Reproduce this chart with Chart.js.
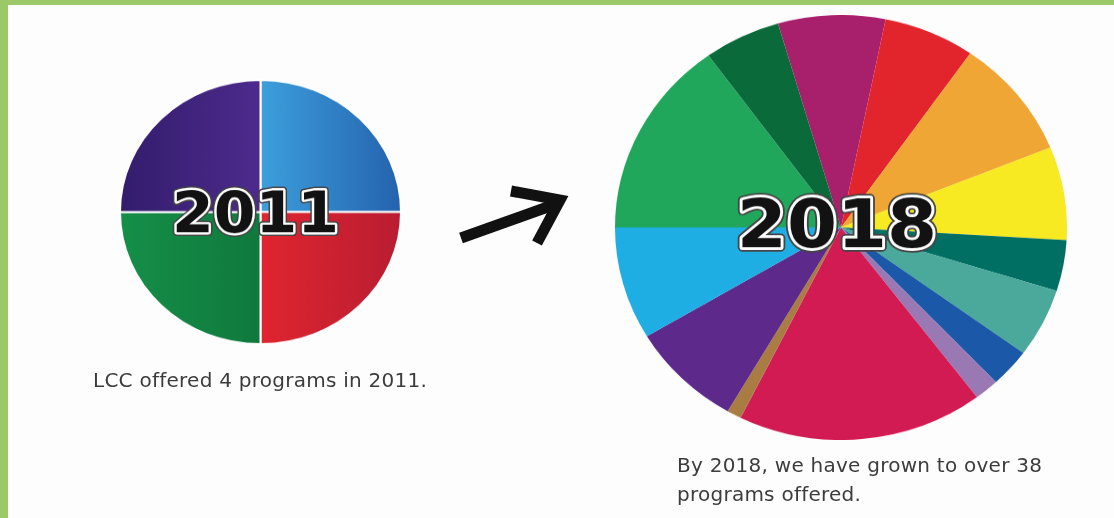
<!DOCTYPE html>
<html>
<head>
<meta charset="utf-8">
<script src="https://cdn.jsdelivr.net/npm/chart.js@4.4.1/dist/chart.umd.min.js"></script>
<style>
  html, body { margin: 0; padding: 0; background: #fff; }
  #page {
    position: relative; width: 1106px; height: 513px;
    border-left: 8px solid #9bc96a; border-top: 5px solid #9bc96a;
    background: #fdfdfd; overflow: hidden;
  }
  .squish { position: absolute; transform: scaleY(0.94); transform-origin: 0 0; }
  #box2011 { left: 111px; top: 74px; }
  #box2018 { left: 607px; top: 10px; }
  .caption {
    position: absolute; font-family: "DejaVu Sans", sans-serif; font-size: 20px;
    letter-spacing: 0.25px; color: #3c3c3c; line-height: 29px; white-space: nowrap;
  }
  #cap1 { left: 85px; top: 361px; }
  #cap2 { left: 669px; top: 446px; }
  svg { position: absolute; left: 0; top: 0; }
</style>
</head>
<body>
<div id="page">
  <div class="squish" id="box2011"><canvas id="pie2011" width="283" height="283"></canvas></div>
  <div class="squish" id="box2018"><canvas id="pie2018" width="452" height="452"></canvas></div>
  <svg width="1106" height="513">
    <g stroke="#111" stroke-width="11" fill="none" stroke-linecap="butt" stroke-linejoin="miter">
      <line x1="453" y1="233" x2="548" y2="199" />
      <polyline points="503,186 552,195 529,238" />
    </g>
  </svg>
  <div class="caption" id="cap1">LCC offered 4 programs in 2011.</div>
  <div class="caption" id="cap2">By 2018, we have grown to over 38<br>programs offered.</div>
</div>
<script>
// 2011: four programs, equal shares
const labels2011 = ["Program 1", "Program 2", "Program 3", "Program 4"];
const values2011 = [1, 1, 1, 1];
// each quarter is shaded a little from left to right
const colors2011Left = ["#3d9fdc", "#df2530", "#158f48", "#331c6c"];
const colors2011Right = ["#2462ae", "#b91d31", "#10793d", "#4d2b8d"];

// 2018: slice sizes (degrees of the circle), clockwise from the magenta slice
const labels2018 = ["Group 1", "Group 2", "Group 3", "Group 4", "Group 5", "Group 6", "Group 7",
                    "Group 8", "Group 9", "Group 10", "Group 11", "Group 12", "Group 13", "Group 14"];
const values2018 = [27.6, 23.5, 33, 25.5, 14, 18.8, 10.5, 6.3, 63.4, 3.7, 29.1, 30.8, 54.1, 19.7];
const colors2018 = ["#a81f6c", "#e2242d", "#f0a634", "#f8ea22", "#006f63", "#4aa99a", "#1b58a8",
                    "#9a78b4", "#d21b52", "#a97c44", "#5d2a8c", "#1eaee3", "#21a75b", "#0b6a39"];

// draws the year in the middle of the pie, outlined like a sticker
const centerText = {
  id: "centerText",
  afterDraw(chart, args, opts) {
    const ctx = chart.ctx;
    const meta = chart.getDatasetMeta(0).data[0];
    ctx.save();
    ctx.font = "bold " + opts.size + "px 'DejaVu Sans'";
    ctx.textAlign = "center";
    ctx.textBaseline = "alphabetic";
    ctx.lineJoin = "round";
    const x = meta.x + opts.dx;
    const y = meta.y + opts.dy + opts.size * 0.365;
    ctx.strokeStyle = "#444";
    ctx.lineWidth = opts.size * 0.13;
    ctx.strokeText(opts.text, x, y);
    ctx.strokeStyle = "#fff";
    ctx.lineWidth = opts.size * 0.08;
    ctx.strokeText(opts.text, x, y);
    ctx.fillStyle = "#121212";
    ctx.fillText(opts.text, x, y);
    ctx.restore();
  }
};

function shade2011(c) {
  const area = c.chart.chartArea;
  if (!area) return colors2011Left[c.dataIndex];
  const cx = (area.left + area.right) / 2;
  // left half slices fade towards the middle, right half slices fade outwards
  const x0 = c.dataIndex < 2 ? cx : area.left;
  const x1 = c.dataIndex < 2 ? area.right : cx;
  const g = c.chart.ctx.createLinearGradient(x0, 0, x1, 0);
  g.addColorStop(0, colors2011Left[c.dataIndex]);
  g.addColorStop(1, colors2011Right[c.dataIndex]);
  return g;
}

new Chart(document.getElementById("pie2011"), {
  type: "pie",
  data: {
    labels: labels2011,
    datasets: [{ data: values2011, backgroundColor: shade2011, borderColor: "#ffffff", borderWidth: 2 }]
  },
  options: {
    responsive: false,
    animation: false,
    plugins: {
      legend: { display: false },
      tooltip: { enabled: false },
      centerText: { text: "2011", size: 60, dx: -5, dy: 0 }
    }
  },
  plugins: [centerText]
});

new Chart(document.getElementById("pie2018"), {
  type: "pie",
  data: {
    labels: labels2018,
    datasets: [{ data: values2018, backgroundColor: colors2018, borderWidth: 0 }]
  },
  options: {
    responsive: false,
    animation: false,
    rotation: -16.2,
    plugins: {
      legend: { display: false },
      tooltip: { enabled: false },
      centerText: { text: "2018", size: 72, dx: -4, dy: -5 }
    }
  },
  plugins: [centerText]
});
</script>
</body>
</html>
